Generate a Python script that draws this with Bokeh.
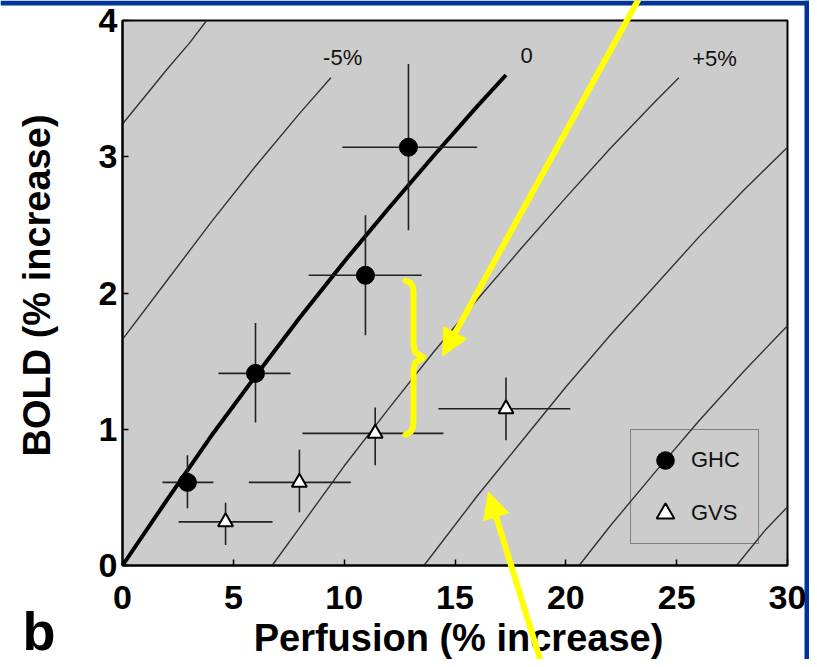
import math
from bokeh.plotting import figure
from bokeh.models import (Range1d, LinearAxis, Legend, LegendItem, Label, Arrow,
                          NormalHead, BoxAnnotation)
from bokeh.embed import file_html
from bokeh.resources import INLINE

# ---------------- data ----------------
x_ticks = [0, 5, 10, 15, 20, 25, 30]
y_ticks = [0, 1, 2, 3, 4]
x_title = "Perfusion (% increase)"
y_title = "BOLD (% increase)"
panel_letter = "b"

# GHC (graded hypercapnia) - filled circles
ghc_perf = [2.93, 6.0, 10.96, 12.9]
ghc_bold = [0.61, 1.41, 2.13, 3.07]
ghc_perf_lo = [1.8, 4.33, 8.4, 9.92]
ghc_perf_hi = [4.1, 7.58, 13.5, 16.0]
ghc_bold_lo = [0.42, 1.05, 1.69, 2.46]
ghc_bold_hi = [0.81, 1.78, 2.57, 3.68]

# GVS (graded visual stimulation) - open triangles
gvs_perf = [4.65, 7.98, 11.4, 17.3]
gvs_bold = [0.32, 0.61, 0.97, 1.15]
gvs_perf_lo = [2.53, 5.7, 8.12, 14.25]
gvs_perf_hi = [6.77, 10.3, 14.48, 20.2]
gvs_bold_lo = [0.15, 0.39, 0.735, 0.92]
gvs_bold_hi = [0.46, 0.85, 1.16, 1.38]

series_names = ["GHC", "GVS"]

# iso-CMRO2 contour lines (thin)
iso_a_x = [0, 1, 2, 3, 3.8]
iso_a_y = [3.24, 3.44, 3.64, 3.83, 4.0]
iso_b_x = [0, 2, 4, 6, 8, 9.4]
iso_b_y = [1.66, 2.09, 2.52, 2.93, 3.32, 3.58]
iso_d_x = [6.75, 8, 10, 12, 14, 16, 18, 20, 22, 24, 25.1]
iso_d_y = [0, 0.28, 0.73, 1.15, 1.56, 1.95, 2.33, 2.70, 3.06, 3.40, 3.58]
iso_e_x = [13.6, 16, 18, 20, 22, 24, 26, 28, 30]
iso_e_y = [0, 0.51, 0.91, 1.31, 1.69, 2.05, 2.41, 2.75, 3.07]
iso_f_x = [20.6, 22, 24, 26, 28, 30]
iso_f_y = [0, 0.29, 0.68, 1.06, 1.42, 1.76]
iso_g_x = [27.7, 29, 30]
iso_g_y = [0, 0.26, 0.43]

# thick "0" contour (through GHC data)
zero_x = [0, 2, 4, 6, 8, 10, 12, 14, 16, 17.3]
zero_y = [0, 0.48, 0.95, 1.39, 1.82, 2.23, 2.62, 3.00, 3.37, 3.60]

iso_labels = ["-5%", "0", "+5%"]
iso_label_x = [9.05, 17.95, 25.7]
iso_label_y = [3.73, 3.74, 3.72]

# yellow annotation shapes (data units)
brace_x = [12.77, 13.0, 13.11, 13.13, 13.13, 13.2, 13.58, 13.2, 13.13, 13.13, 13.11, 13.0, 12.77]
brace_y = [2.09, 2.075, 2.04, 1.99, 1.62, 1.565, 1.527, 1.49, 1.435, 1.07, 1.02, 0.98, 0.96]
arrow1 = dict(x_start=23.6, y_start=4.25, x_end=14.44, y_end=1.54)
arrow2 = dict(x_start=19.05, y_start=-0.8, x_end=16.51, y_end=0.54)

# ---------------- layout ----------------
W, H = 809, 659                               # canvas (page has an 8px margin)
PX_L, PX_R, PX_T, PX_B = 122, 787, 20, 565    # plot box in canvas pixels
sx = (PX_R - PX_L) / (x_ticks[-1] - x_ticks[0])
sy = (PX_B - PX_T) / (y_ticks[-1] - y_ticks[0])


def dx(px):
    return x_ticks[0] + (px - PX_L) / sx


def dy(py):
    return y_ticks[0] + (PX_B - py) / sy


FONT = "Liberation Sans"
BG = "#cccccc"
YEL = "#ffff00"
BLUE = "#003399"

p = figure(frame_width=W, frame_height=H,
           x_range=Range1d(dx(0), dx(W)), y_range=Range1d(dy(H), dy(0)),
           x_axis_location=None, y_axis_location=None,
           output_backend="svg", toolbar_location=None,
           min_border=0, min_border_left=0, min_border_right=0,
           min_border_top=0, min_border_bottom=0,
           background_fill_color="white", border_fill_color="white",
           outline_line_color=None)
p.grid.visible = False

# slide border strips (top and right)
p.add_layout(BoxAnnotation(bottom=dy(5), fill_color=BLUE, fill_alpha=1,
                           line_color=None, level="underlay"))
p.add_layout(BoxAnnotation(left=dx(804), fill_color=BLUE, fill_alpha=1,
                           line_color=None, level="underlay"))

# plot area
p.quad(left=[x_ticks[0]], right=[x_ticks[-1]], bottom=[y_ticks[0]], top=[y_ticks[-1]],
       fill_color=BG, line_color="black", line_width=2)

xax = LinearAxis(fixed_location=y_ticks[0], bounds=(x_ticks[0], x_ticks[-1]), ticker=x_ticks)
yax = LinearAxis(fixed_location=x_ticks[0], bounds=(y_ticks[0], y_ticks[-1]), ticker=y_ticks)
for ax in [xax, yax]:
    ax.major_label_text_font = FONT
    ax.major_label_text_font_style = "bold"
    ax.major_label_text_font_size = "34px"
    ax.major_label_text_color = "black"
    ax.major_tick_in = 6
    ax.major_tick_out = 0
    ax.minor_tick_line_color = None
    ax.axis_line_width = 2
    ax.major_tick_line_width = 1.5
xax.major_label_standoff = 20
yax.major_label_standoff = 5
p.add_layout(xax, "below")
p.add_layout(yax, "left")

# axis titles
p.add_layout(Label(x=dx(458), y=dy(637), text=x_title, text_font=FONT, text_font_style="bold",
                   text_font_size="38px", text_color="black", text_align="center",
                   text_baseline="middle"))
p.add_layout(Label(x=dx(36.5), y=dy(285), text=y_title, text_font=FONT, text_font_style="bold",
                   text_font_size="38px", text_color="black", text_align="center",
                   text_baseline="middle", angle=math.pi / 2))

# contour lines
p.multi_line(xs=[iso_a_x, iso_b_x, iso_d_x, iso_e_x, iso_f_x, iso_g_x],
             ys=[iso_a_y, iso_b_y, iso_d_y, iso_e_y, iso_f_y, iso_g_y],
             line_color="#333333", line_width=1.4)
p.line(zero_x, zero_y, line_color="black", line_width=4)

for t, lx, ly in zip(iso_labels, iso_label_x, iso_label_y):
    p.add_layout(Label(x=lx, y=ly, text=t, text_font=FONT, text_font_size="22px",
                       text_color="#111111", text_baseline="middle"))

# error bars
for xs0, xs1, ys in [(ghc_perf_lo, ghc_perf_hi, ghc_bold), (gvs_perf_lo, gvs_perf_hi, gvs_bold)]:
    p.segment(x0=xs0, y0=ys, x1=xs1, y1=ys, line_color="#222222", line_width=1.6)
for xs, ys0, ys1 in [(ghc_perf, ghc_bold_lo, ghc_bold_hi), (gvs_perf, gvs_bold_lo, gvs_bold_hi)]:
    p.segment(x0=xs, y0=ys0, x1=xs, y1=ys1, line_color="#222222", line_width=1.6)

r_ghc = p.scatter(ghc_perf, ghc_bold, marker="circle", size=18,
                  fill_color="black", line_color="black")
r_gvs = p.scatter(gvs_perf, gvs_bold, marker="triangle", size=15,
                  fill_color="white", line_color="black", line_width=2)

legend = Legend(items=[LegendItem(label=series_names[0], renderers=[r_ghc]),
                       LegendItem(label=series_names[1], renderers=[r_gvs])],
                location=(630, H - 544), orientation="vertical",
                border_line_color="#333333", border_line_width=1.5,
                background_fill_alpha=0,
                label_text_font=FONT, label_text_font_size="22px",
                label_text_color="#111111",
                glyph_width=52, glyph_height=44, label_height=44, label_width=59,
                padding=8, spacing=9, label_standoff=0, margin=0)
p.add_layout(legend)

# yellow annotations
p.line(brace_x, brace_y, line_color=YEL, line_width=6, line_join="round", line_cap="round")
p.add_layout(Arrow(end=NormalHead(size=26, fill_color=YEL, line_color=YEL, line_width=1),
                   line_color=YEL, line_width=6, **arrow1))
p.add_layout(Arrow(end=NormalHead(size=26, fill_color=YEL, line_color=YEL, line_width=1),
                   line_color=YEL, line_width=6, **arrow2))

p.add_layout(Label(x=dx(22), y=dy(630), text=panel_letter, text_font=FONT, text_font_style="bold",
                   text_font_size="54px", text_color="black", text_baseline="middle"))

open("out.html", "w").write(file_html(p, INLINE))
